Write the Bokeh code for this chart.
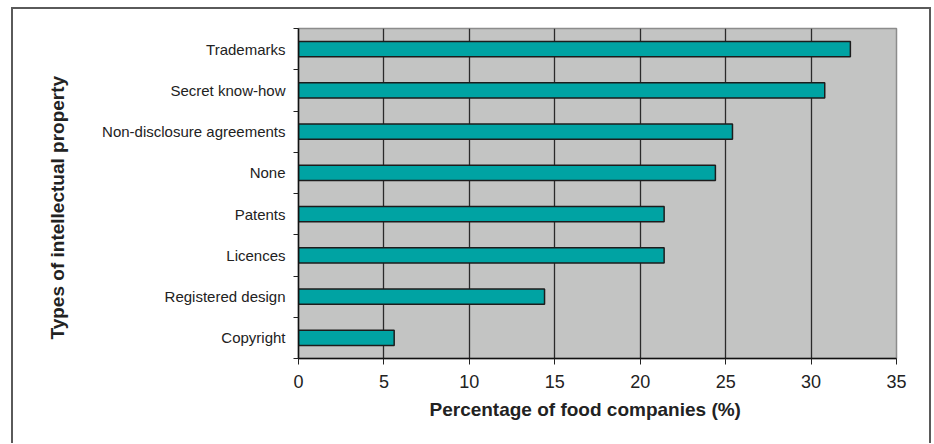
from bokeh.plotting import figure
from bokeh.models import FixedTicker, Range1d, CustomJSTickFormatter, Title
from bokeh.embed import file_html
from bokeh.resources import INLINE

# Share of food companies using each type of intellectual property protection
categories = ["Trademarks", "Secret know-how", "Non-disclosure agreements", "None",
              "Patents", "Licences", "Registered design", "Copyright"]
values = [32.3, 30.8, 25.4, 24.4, 21.4, 21.4, 14.4, 5.6]
x_ticks = [0, 5, 10, 15, 20, 25, 30, 35]
x_title = "Percentage of food companies (%)"
y_title = "Types of intellectual property"

FONT = "Liberation Sans"
n = len(categories)
# first category at the top
ypos = [n - i - 0.5 for i in range(n)]

p = figure(width=920, height=436,
           x_range=Range1d(x_ticks[0], x_ticks[-1]), y_range=Range1d(0, n),
           output_backend="svg", toolbar_location=None,
           min_border_left=285, min_border_right=37,
           min_border_top=19, min_border_bottom=87)
p.margin = (7, 0, 0, 11)
p.styles = {"border-left": "2px solid #5a5a5a", "border-top": "2px solid #5a5a5a",
            "border-right": "2px solid #5a5a5a"}

p.background_fill_color = "#C3C4C3"
p.border_fill_color = "white"
p.outline_line_color = "#8c8c8c"
p.outline_line_width = 1.5

p.hbar(y=ypos, left=0, right=values, height=0.375,
       fill_color="#00A3A3", line_color="#1c1c1c", line_width=1.5)

# vertical gridlines
p.xgrid.ticker = FixedTicker(ticks=x_ticks, minor_ticks=[])
p.xgrid.grid_line_color = "#2a2a2a"
p.xgrid.grid_line_width = 1.3
p.ygrid.visible = False

# x axis
xa = p.xaxis[0]
xa.ticker = FixedTicker(ticks=x_ticks, minor_ticks=[])
xa.axis_line_color = "#111111"
xa.axis_line_width = 1.5
xa.major_tick_out = 6
xa.major_tick_in = 0
xa.major_tick_line_color = "#222222"
xa.minor_tick_line_color = None
xa.major_label_standoff = 10
xa.major_label_text_font = FONT
xa.major_label_text_font_size = "18px"
xa.major_label_text_color = "#222222"

# y axis: labels at band centres, tick marks at band edges
ya = p.yaxis[0]
ya.ticker = FixedTicker(ticks=ypos, minor_ticks=list(range(n + 1)))
ya.formatter = CustomJSTickFormatter(args=dict(names=categories),
                                     code="return names[names.length - 1 - Math.floor(tick)];")
ya.axis_line_color = "#111111"
ya.axis_line_width = 1.5
ya.major_tick_line_color = None
ya.major_tick_out = 0
ya.major_tick_in = 0
ya.minor_tick_out = 5
ya.minor_tick_in = 0
ya.minor_tick_line_color = "#222222"
ya.minor_tick_line_width = 1
ya.major_label_standoff = 8
ya.major_label_text_font = FONT
ya.major_label_text_font_size = "15px"
ya.major_label_text_color = "#222222"

# axis titles
p.add_layout(Title(text=x_title, align="left", offset=131, standoff=12,
                   text_font=FONT, text_font_style="bold", text_font_size="19px",
                   text_color="#222222"), "below")
p.add_layout(Title(text=y_title, align="left", vertical_align="middle", offset=19,
                   standoff=62, text_font=FONT, text_font_style="bold",
                   text_font_size="19px", text_color="#222222"), "left")

open("out.html", "w").write(file_html(p, INLINE))
